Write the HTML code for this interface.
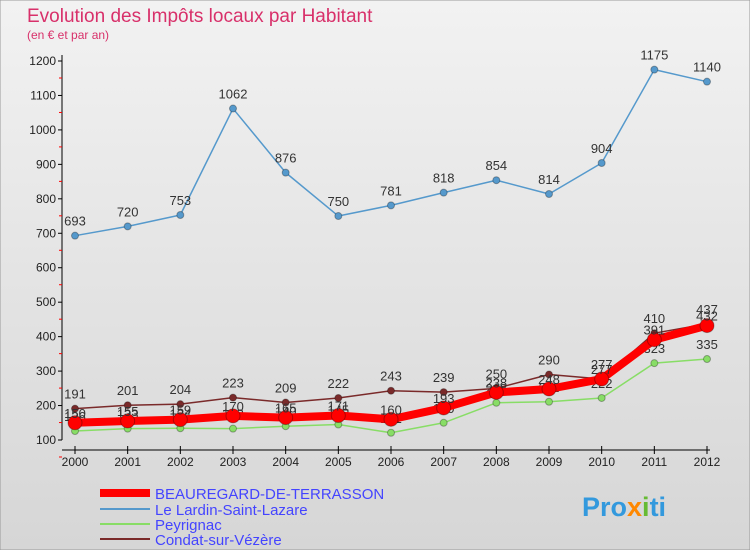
<!DOCTYPE html>
<html><head><meta charset="utf-8"><style>
body{margin:0;width:750px;height:550px;overflow:hidden;font-family:"Liberation Sans",sans-serif}
</style></head><body>
<svg width="750" height="550" xmlns="http://www.w3.org/2000/svg">
<defs><linearGradient id="bg" x1="0" y1="0" x2="0" y2="1"><stop offset="0" stop-color="#f2f2f2"/><stop offset="1" stop-color="#d6d6d6"/></linearGradient></defs>
<rect x="0" y="0" width="750" height="550" fill="url(#bg)" stroke="#999"/>
<text x="27" y="22" font-size="19" fill="#d8306a">Evolution des Impôts locaux par Habitant</text>
<text x="27" y="39" font-size="12" fill="#d8306a">(en € et par an)</text>
<g id="axes"></g><g id="series"></g>
<g>
<line x1="100" y1="493" x2="150" y2="493" stroke="#ff0000" stroke-width="8"/><text x="155" y="499" font-size="15" fill="#4444ff">BEAUREGARD-DE-TERRASSON</text>
<line x1="100" y1="509" x2="150" y2="509" stroke="#5599cc" stroke-width="2"/><text x="155" y="515" font-size="15" fill="#4444ff">Le Lardin-Saint-Lazare</text>
<line x1="100" y1="524" x2="150" y2="524" stroke="#88dd66" stroke-width="2"/><text x="155" y="530" font-size="15" fill="#4444ff">Peyrignac</text>
<line x1="100" y1="539" x2="150" y2="539" stroke="#7a2a2a" stroke-width="2"/><text x="155" y="545" font-size="15" fill="#4444ff">Condat-sur-Vézère</text>
</g>
<text x="582" y="516" font-size="27" font-weight="bold" fill="#3399dd">Pro<tspan fill="#ff8800">x</tspan><tspan fill="#66bb33">i</tspan>ti</text>
</svg>
<script>
const years=[2000,2001,2002,2003,2004,2005,2006,2007,2008,2009,2010,2011,2012];
const yTicks=[100,200,300,400,500,600,700,800,900,1000,1100,1200];
const beauregard=[150,155,159,170,165,171,160,193,238,248,277,391,432];
const lardin=[693,720,753,1062,876,750,781,818,854,814,904,1175,1140];
const peyrignac=[126,133,134,133,140,145,121,150,208,211,222,323,335];
const condat=[191,201,204,223,209,222,243,239,250,290,277,410,437];
const NS="http://www.w3.org/2000/svg";
const X0=75,X1=707,Y100=440,Y1200=61;
function xs(i){return X0+(X1-X0)*i/(years.length-1);}
function ys(v){return Y100-(v-100)*(Y100-Y1200)/1100;}
function mk(p,tag,at){const e=document.createElementNS(NS,tag);for(const k in at)e.setAttribute(k,at[k]);p.appendChild(e);return e;}
const ax=document.getElementById('axes');
let yl=mk(ax,'line',{x1:62,y1:55,x2:62,y2:440,stroke:'#000'});


let xl=mk(ax,'line',{x1:62,y1:450,x2:710,y2:450,stroke:'#000'});


yTicks.forEach(v=>{const y=ys(v);
mk(ax,'line',{x1:58,y1:y,x2:62,y2:y,stroke:'#000'});
mk(ax,'line',{x1:59,y1:y+17,x2:62,y2:y+17,stroke:'#f00'});
const t=mk(ax,'text',{x:56,y:y+4,'font-size':12,'text-anchor':'end',fill:'#222'});t.textContent=v;

});
years.forEach((yr,i)=>{const x=xs(i);
mk(ax,'line',{x1:x,y1:446,x2:x,y2:454,stroke:'#000'});
const t=mk(ax,'text',{x:x,y:466,'font-size':12,'text-anchor':'middle',fill:'#222'});t.textContent=yr;

});
const sg=document.getElementById('series');
function draw(data,color,w,r,name,lab){
const g=mk(sg,'g',{});


mk(g,'polyline',{points:data.map((v,i)=>xs(i)+','+ys(v)).join(' '),fill:'none',stroke:color,'stroke-width':w,'stroke-linejoin':'round'});
data.forEach((v,i)=>{const c=mk(g,'circle',{cx:xs(i),cy:ys(v),r:r,fill:color,stroke:'rgba(0,0,0,0.3)'});


const t=mk(g,'text',{x:xs(i),y:ys(v)+lab,'font-size':13,'text-anchor':'middle',fill:'#333'});t.textContent=v;

});}
draw(lardin,'#5599cc',1.5,3.5,'series-lardin',-10);
draw(peyrignac,'#88dd66',1.5,3.5,'series-peyrignac',-10);
draw(condat,'#7a2a2a',1.5,3.5,'series-condat',-10);
draw(beauregard,'#ff0000',8,7,'series-beauregard',-5);
</script>
</body></html>
